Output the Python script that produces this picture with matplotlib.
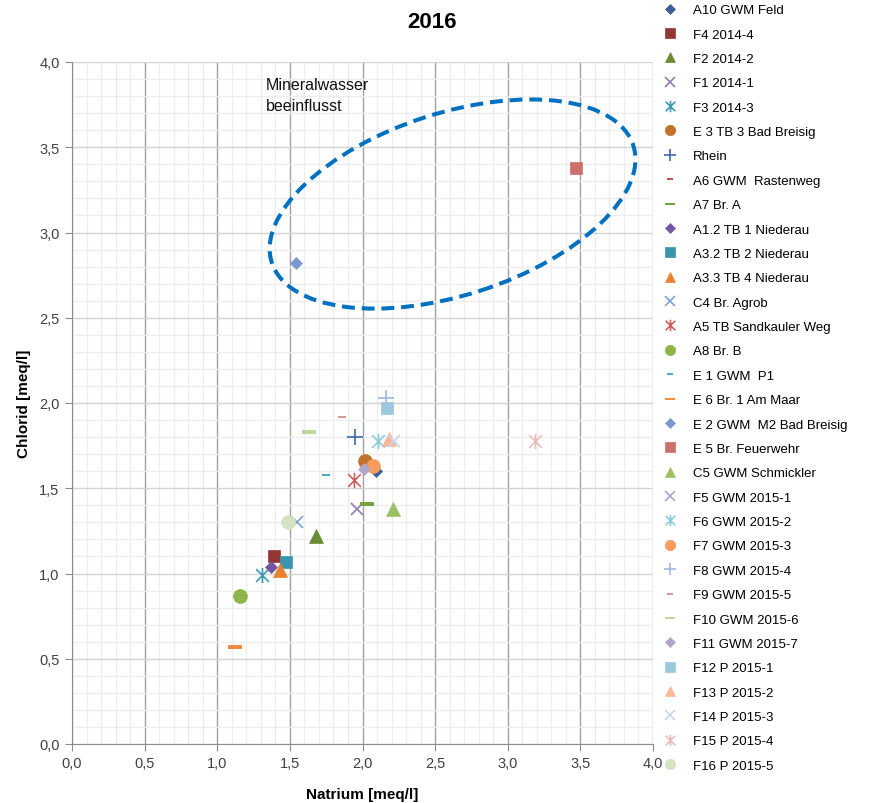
import matplotlib
matplotlib.use("Agg")
import matplotlib.pyplot as plt
import numpy as np
from matplotlib.path import Path
from matplotlib.patches import Ellipse
from matplotlib.ticker import MultipleLocator, FuncFormatter
from matplotlib.transforms import ScaledTranslation

plt.rcParams["font.family"] = ["Liberation Sans", "DejaVu Sans"]

# Messstellen (series order = legend order = drawing order)
names = [
    "A10 GWM Feld", "F4 2014-4", "F2 2014-2", "F1 2014-1", "F3 2014-3",
    "E 3 TB 3 Bad Breisig", "Rhein", "A6 GWM  Rastenweg", "A7 Br. A",
    "A1.2 TB 1 Niederau", "A3.2 TB 2 Niederau", "A3.3 TB 4 Niederau",
    "C4 Br. Agrob", "A5 TB Sandkauler Weg", "A8 Br. B", "E 1 GWM  P1",
    "E 6 Br. 1 Am Maar", "E 2 GWM  M2 Bad Breisig", "E 5 Br. Feuerwehr",
    "C5 GWM Schmickler", "F5 GWM 2015-1", "F6 GWM 2015-2", "F7 GWM 2015-3",
    "F8 GWM 2015-4", "F9 GWM 2015-5", "F10 GWM 2015-6", "F11 GWM 2015-7",
    "F12 P 2015-1", "F13 P 2015-2", "F14 P 2015-3", "F15 P 2015-4",
    "F16 P 2015-5",
]
# Natrium [meq/l]
natrium = [
    2.09, 1.39, 1.68, 1.96, 1.31,
    2.02, 1.95, np.nan, 2.03,
    1.37, 1.47, 1.43,
    1.55, 1.94, 1.16, 1.75,
    1.12, 1.54, 3.47,
    2.21, np.nan, 2.11, 2.07,
    2.16, 1.86, 1.63, 2.01,
    2.17, 2.18, 2.22, 3.19,
    1.49,
]
# Chlorid [meq/l]
chlorid = [
    1.60, 1.10, 1.22, 1.38, 0.99,
    1.66, 1.80, np.nan, 1.41,
    1.04, 1.07, 1.02,
    1.30, 1.55, 0.87, 1.58,
    0.57, 2.82, 3.38,
    1.38, np.nan, 1.78, 1.63,
    2.03, 1.92, 1.83, 1.61,
    1.97, 1.79, 1.78, 1.78,
    1.30,
]
colors = [
    "#3A5F94", "#943634", "#6B8A34", "#8E7DAF", "#3C9AB4",
    "#C0732E", "#3E68A4", "#C0504D", "#78A03C",
    "#7356A0", "#3A95B0", "#E8822E",
    "#7FA0D6", "#D0605E", "#8DB548", "#4AACC6",
    "#F48B3C", "#7B98CF", "#CC6E6C",
    "#9CC064", "#B0A3CC", "#8ACBDD", "#F79B5E",
    "#A0B8DD", "#D99694", "#C0D69A", "#B1A5CB",
    "#9BC8DA", "#F9B898", "#C9D4EE", "#E9BDBC",
    "#D5E3C2",
]
kinds = [
    "dia", "sq", "tri", "x", "star",
    "circ", "plus", "dash_s", "dash",
    "dia", "sq", "tri",
    "x", "star", "circ", "dash_s",
    "dash", "dia", "sq",
    "tri", "x", "star", "circ",
    "plus", "dash_s", "dash", "dia",
    "sq", "tri", "x", "star",
    "circ",
]

# Excel-like marker shapes
star_path = Path(
    [(-1, -1), (1, 1), (-1, 1), (1, -1), (0, -1.2), (0, 1.2)],
    [Path.MOVETO, Path.LINETO, Path.MOVETO, Path.LINETO, Path.MOVETO, Path.LINETO],
)
dash_path = Path([(-1, -0.28), (1, -0.28), (1, 0.28), (-1, 0.28), (-1, -0.28)], closed=True)

style = {
    "dia": dict(marker="D", ms=6.5),
    "sq": dict(marker="s", ms=9),
    "tri": dict(marker="^", ms=10),
    "x": dict(marker="x", ms=9, mew=1.2),
    "star": dict(marker=star_path, ms=11, mew=1.2),
    "circ": dict(marker="o", ms=10),
    "plus": dict(marker="+", ms=11, mew=1.2),
    "dash": dict(marker=dash_path, ms=10, mew=0),
    "dash_s": dict(marker=dash_path, ms=6, mew=0),
}

fig = plt.figure(figsize=(8.72, 8.04), dpi=100)
ax = fig.add_axes([72 / 872, 59 / 804, 581 / 872, 682 / 804])

ax.set_xlim(0, 4)
ax.set_ylim(0, 4)
ax.xaxis.set_major_locator(MultipleLocator(0.5))
ax.yaxis.set_major_locator(MultipleLocator(0.5))
ax.xaxis.set_minor_locator(MultipleLocator(0.1))
ax.yaxis.set_minor_locator(MultipleLocator(0.1))
comma = FuncFormatter(lambda v, p: f"{v:.1f}".replace(".", ","))
ax.xaxis.set_major_formatter(comma)
ax.yaxis.set_major_formatter(comma)

ax.grid(which="minor", color="#EDEDED", lw=1)
ax.grid(which="major", axis="y", color="#D4D4D4", lw=1)
ax.grid(which="major", axis="x", color="#A0A0A0", lw=1)
ax.set_axisbelow(True)
for s in ["top", "right"]:
    ax.spines[s].set_visible(False)
for s in ["left", "bottom"]:
    ax.spines[s].set_color("#8C8C8C")
ax.tick_params(which="major", length=5, color="#8C8C8C", labelsize=10.5,
               labelcolor="#404040", pad=4)
ax.tick_params(which="minor", length=0)

handles = []
for name, x, y, c, k in zip(names, natrium, chlorid, colors, kinds):
    st = style[k]
    filled = k not in ("x", "star", "plus")
    h, = ax.plot([x], [y], linestyle="none", marker=st["marker"], markersize=st["ms"],
                 color=c, markerfacecolor=c if filled else "none",
                 markeredgecolor=c, markeredgewidth=st.get("mew", 0.5), label=name)
    handles.append(h)

# Mineralwasser-Gruppe einkreisen
ell = Ellipse((0, 0), width=3.80, height=1.82, angle=18, fill=False,
              edgecolor="#0070C0", lw=2.9, linestyle=(0, (3.2, 1.7)),
              transform=fig.dpi_scale_trans + ScaledTranslation(2.62, 3.167, ax.transData))
ax.add_patch(ell)
ax.text(1.335, 3.91, "Mineralwasser\nbeeinflusst", fontsize=11.5, va="top", ha="left",
        linespacing=1.45, color="#111111")

ax.set_xlabel("Natrium [meq/l]", fontsize=11, fontweight="bold", labelpad=12)
ax.set_ylabel("Chlorid [meq/l]", fontsize=11, fontweight="bold", labelpad=6)
fig.text(432 / 872, 1 - 22 / 804, "2016", ha="center", va="center",
         fontsize=16, fontweight="bold")

fig.legend(handles=handles, loc="upper left", bbox_to_anchor=(664 / 872, 1 - 5 / 804),
           frameon=False, markerscale=0.75, handlelength=0.9,
           handletextpad=1.3, labelspacing=0.92, borderpad=0, borderaxespad=0,
           prop={"size": 9.5})

fig.savefig("out.png", dpi=100)
